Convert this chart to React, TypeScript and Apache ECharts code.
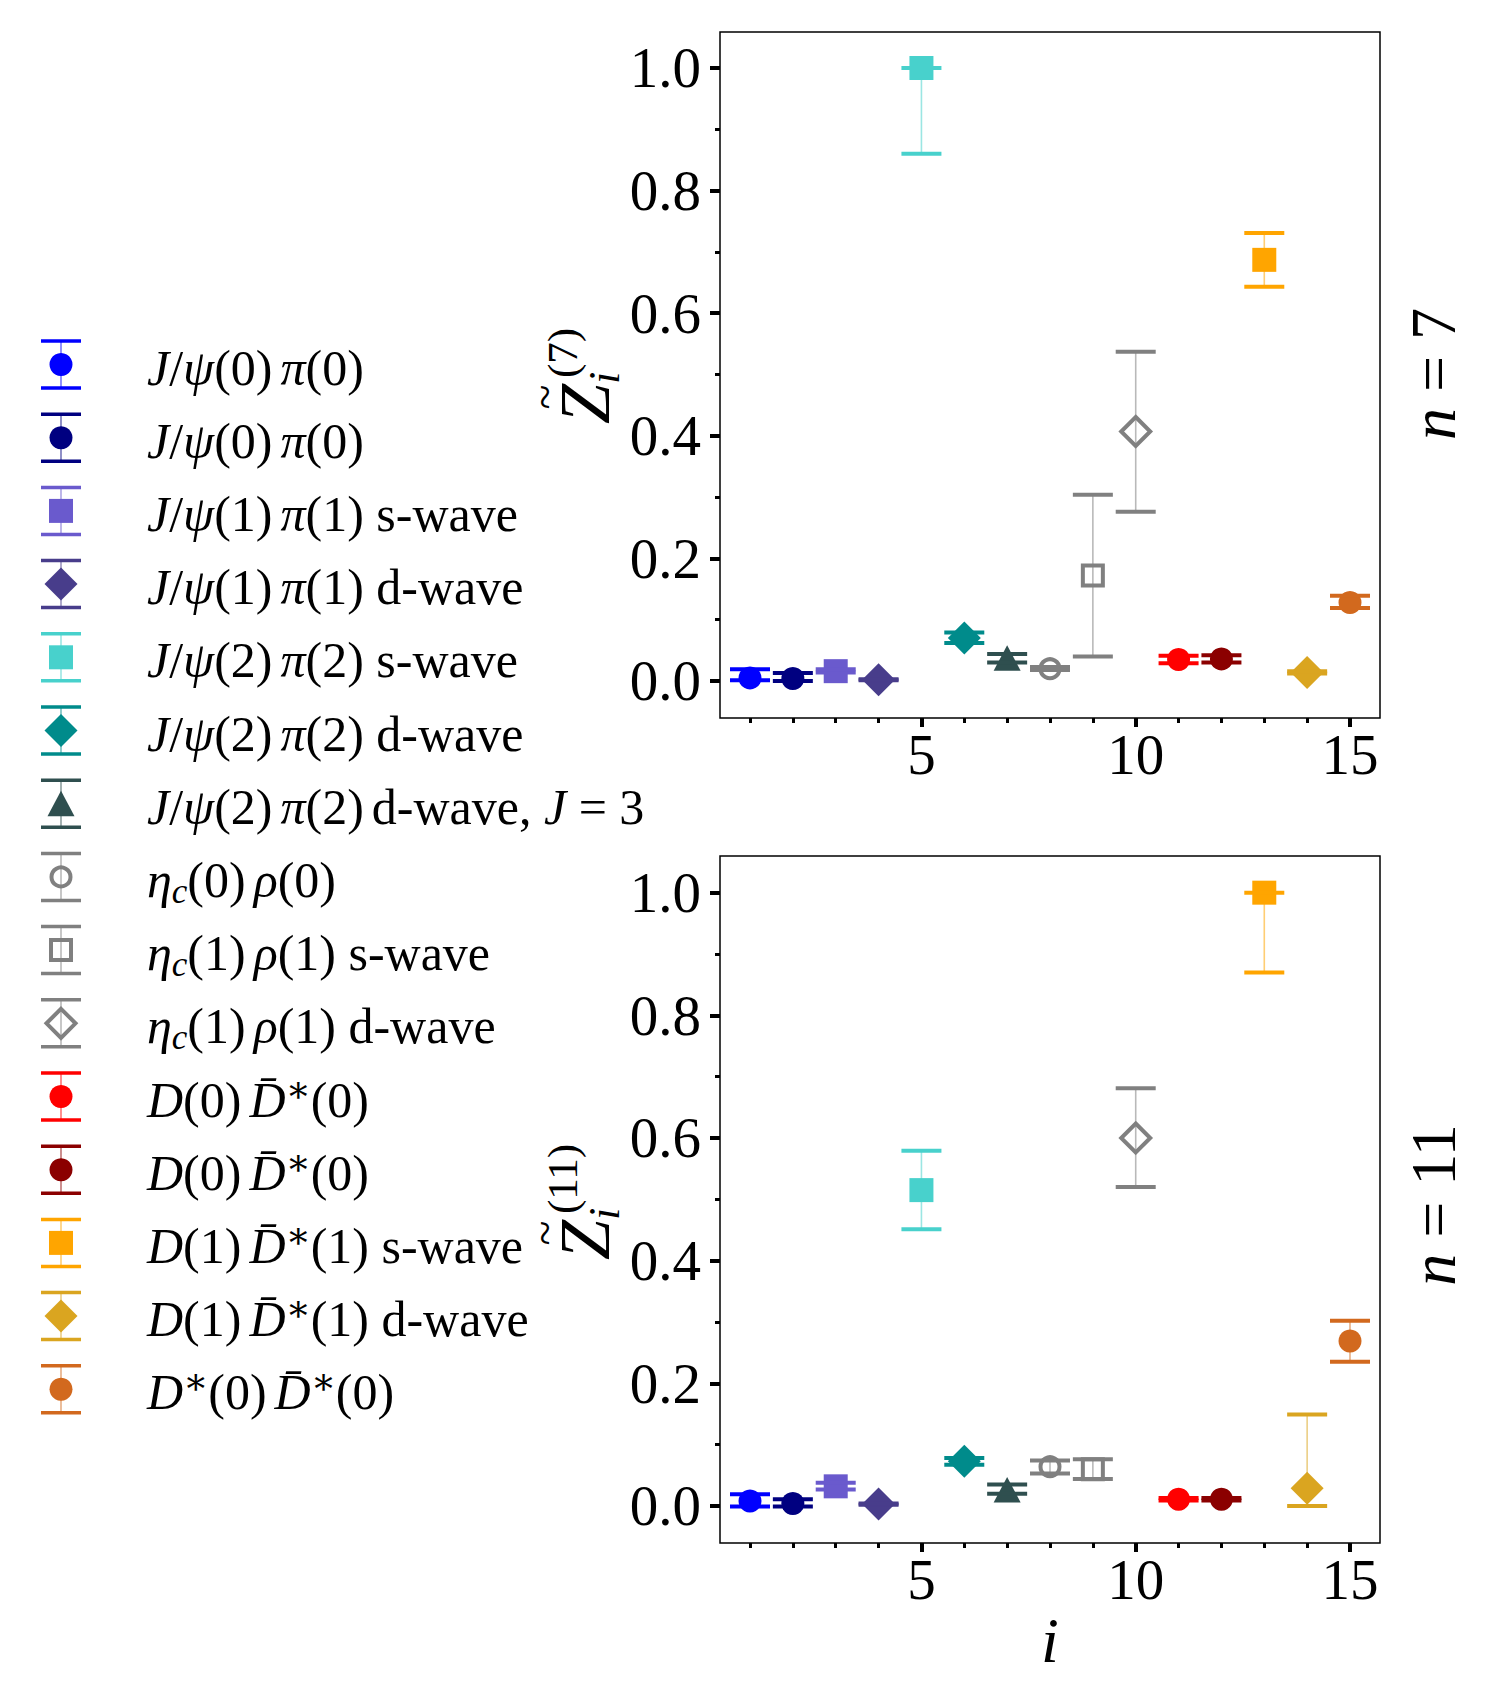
import React, { useEffect, useRef } from "react";
import * as echarts from "echarts";

const SERIF = "'Liberation Serif', 'DejaVu Serif', serif";

// ---------------- data ----------------
const INDEX = [1, 2, 3, 4, 5, 6, 7, 8, 9, 10, 11, 12, 13, 14, 15];

const LABELS = [
  "J/ψ(0)\u2009π(0)",
  "J/ψ(0)\u2009π(0)",
  "J/ψ(1)\u2009π(1) s-wave",
  "J/ψ(1)\u2009π(1) d-wave",
  "J/ψ(2)\u2009π(2) s-wave",
  "J/ψ(2)\u2009π(2) d-wave",
  "J/ψ(2)\u2009π(2)\u2009d-wave, J = 3",
  "η_c(0)\u2009ρ(0)",
  "η_c(1)\u2009ρ(1) s-wave",
  "η_c(1)\u2009ρ(1) d-wave",
  "D(0)\u2009D\u0304*(0)",
  "D(0)\u2009D\u0304*(0)",
  "D(1)\u2009D\u0304*(1) s-wave",
  "D(1)\u2009D\u0304*(1) d-wave",
  "D*(0)\u2009D\u0304*(0)",
];

const COLORS = [
  "#0000ff", "#000080", "#6a5acd", "#483d8b", "#48d1cc",
  "#008b8b", "#2f4f4f", "#808080", "#808080", "#808080",
  "#ff0000", "#8b0000", "#ffa500", "#daa520", "#d2691e",
];

const MARKERS = [
  "circle", "circle", "square", "diamond", "square",
  "diamond", "triangle", "openCircle", "openSquare", "openDiamond",
  "circle", "circle", "square", "diamond", "circle",
];

// n = 7
const Z7 = [0.005, 0.004, 0.016, 0.002, 1.0, 0.070, 0.037, 0.020, 0.172, 0.407, 0.035, 0.036, 0.687, 0.014, 0.128];
const Z7_LO = [0.001, 0.0, 0.014, 0.001, 0.860, 0.062, 0.030, 0.018, 0.040, 0.276, 0.029, 0.030, 0.643, 0.012, 0.119];
const Z7_HI = [0.019, 0.013, 0.019, 0.003, 1.0, 0.079, 0.044, 0.023, 0.304, 0.537, 0.041, 0.042, 0.731, 0.016, 0.139];

// n = 11
const Z11 = [0.008, 0.004, 0.032, 0.003, 0.515, 0.073, 0.026, 0.064, 0.060, 0.600, 0.011, 0.011, 1.0, 0.029, 0.269];
const Z11_LO = [-0.001, -0.001, 0.027, 0.002, 0.451, 0.067, 0.020, 0.053, 0.044, 0.520, 0.009, 0.009, 0.870, 0.0, 0.235];
const Z11_HI = [0.019, 0.011, 0.038, 0.004, 0.579, 0.078, 0.035, 0.074, 0.076, 0.681, 0.013, 0.013, 1.0, 0.149, 0.302];

const Y_TICKS = [0, 0.2, 0.4, 0.6, 0.8, 1.0];
const Y_MINOR = [0.1, 0.3, 0.5, 0.7, 0.9];
const X_TICKS = [5, 10, 15];
const X_MINOR = [1, 2, 3, 4, 6, 7, 8, 9, 11, 12, 13, 14];

const X_MIN = 0.3;
const X_MAX = 15.7;
const Y_MIN = -0.0604;
const Y_MAX = 1.0587;

// ---------------- helpers ----------------
function markerEl(kind: string, cx: number, cy: number, color: string): any {
  switch (kind) {
    case "circle":
      return { type: "circle", shape: { cx, cy, r: 11.5 }, style: { fill: color } };
    case "square":
      return { type: "rect", shape: { x: cx - 12, y: cy - 12, width: 24, height: 24 }, style: { fill: color } };
    case "diamond":
      return {
        type: "polygon",
        shape: { points: [[cx, cy - 16.5], [cx + 16.5, cy], [cx, cy + 16.5], [cx - 16.5, cy]] },
        style: { fill: color },
      };
    case "triangle":
      return {
        type: "polygon",
        shape: { points: [[cx, cy - 13], [cx + 13.5, cy + 12.5], [cx - 13.5, cy + 12.5]] },
        style: { fill: color },
      };
    case "openCircle":
      return { type: "circle", shape: { cx, cy, r: 9.5 }, style: { fill: "none", stroke: color, lineWidth: 4 } };
    case "openSquare":
      return {
        type: "rect",
        shape: { x: cx - 10, y: cy - 10, width: 20, height: 20 },
        style: { fill: "none", stroke: color, lineWidth: 4 },
      };
    default:
      return {
        type: "polygon",
        shape: { points: [[cx, cy - 14.5], [cx + 14.5, cy], [cx, cy + 14.5], [cx - 14.5, cy]] },
        style: { fill: "none", stroke: color, lineWidth: 4 },
      };
  }
}

const MATH_CHARS = "JψπηρD";

function toRich(label: string): string {
  const segs: [string, string][] = [];
  let i = 0;
  while (i < label.length) {
    const ch = label[i];
    if (ch === "_") {
      segs.push(["sub", label[i + 1]]);
      i += 2;
      continue;
    }
    if (ch === "*") {
      segs.push(["sup", "∗"]);
      i += 1;
      continue;
    }
    if (ch === "\u2009") {
      segs.push(["sp", " "]);
      i += 1;
      continue;
    }
    if (MATH_CHARS.includes(ch)) {
      let t = ch;
      if (label[i + 1] === "\u0304") {
        t += "\u0304";
        i += 1;
      }
      segs.push(["m", t]);
      i += 1;
      continue;
    }
    segs.push(["r", ch]);
    i += 1;
  }
  const merged: [string, string][] = [];
  for (const s of segs) {
    const last = merged[merged.length - 1];
    if (last && last[0] === s[0] && s[0] !== "sp") last[1] += s[1];
    else merged.push([s[0], s[1]]);
  }
  return merged.map(([st, t]) => `{${st}|${t}}`).join("");
}

const LF = 50;
const LEG_RICH: any = {
  m: { fontFamily: SERIF, fontStyle: "italic", fontSize: LF, lineHeight: 58, fill: "#000" },
  r: { fontFamily: SERIF, fontSize: LF, lineHeight: 58, fill: "#000" },
  sp: { fontFamily: SERIF, fontSize: 32, lineHeight: 58, fill: "#000" },
  sub: { fontFamily: SERIF, fontStyle: "italic", fontSize: 35, lineHeight: 32, verticalAlign: "bottom", fill: "#000" },
  sup: { fontFamily: SERIF, fontSize: 37, lineHeight: 37, verticalAlign: "top", fill: "#000" },
};

function errSeries(g: number, vals: number[], lo: number[], hi: number[]) {
  return {
    type: "custom",
    xAxisIndex: g * 2,
    yAxisIndex: g * 2,
    clip: false,
    encode: { x: 0, y: [1, 2, 3] },
    data: INDEX.map((x, i) => [x, vals[i], lo[i], hi[i], i]),
    renderItem: (_params: any, api: any) => {
      const k = api.value(4);
      const col = COLORS[k];
      const c = api.coord([api.value(0), api.value(1)]);
      const pl = api.coord([api.value(0), api.value(2)]);
      const ph = api.coord([api.value(0), api.value(3)]);
      return {
        type: "group",
        children: [
          {
            type: "line",
            shape: { x1: c[0], y1: pl[1], x2: c[0], y2: ph[1] },
            style: { stroke: col, lineWidth: 1.6, opacity: 0.55 },
          },
          markerEl(MARKERS[k], c[0], c[1], col),
          {
            type: "line",
            shape: { x1: c[0] - 20, y1: pl[1], x2: c[0] + 20, y2: pl[1] },
            style: { stroke: col, lineWidth: 4 },
          },
          {
            type: "line",
            shape: { x1: c[0] - 20, y1: ph[1], x2: c[0] + 20, y2: ph[1] },
            style: { stroke: col, lineWidth: 4 },
          },
        ],
      };
    },
  };
}

const TICK_FONT = { fontFamily: SERIF, fontSize: 57, color: "#000" };

function xAxes(g: number) {
  return [
    {
      type: "value", gridIndex: g, min: X_MIN, max: X_MAX, position: "bottom", offset: 0,
      axisLine: { show: false, onZero: false }, splitLine: { show: false },
      axisTick: { show: true, customValues: X_TICKS, length: 9, lineStyle: { color: "#000", width: 4 } },
      axisLabel: { show: true, customValues: X_TICKS, margin: 8, ...TICK_FONT, formatter: (v: number) => String(v) },
    },
    {
      type: "value", gridIndex: g, min: X_MIN, max: X_MAX, position: "bottom", offset: 0,
      axisLine: { show: false, onZero: false }, splitLine: { show: false },
      axisTick: { show: true, customValues: X_MINOR, length: 5, lineStyle: { color: "#000", width: 3 } },
      axisLabel: { show: false, customValues: X_MINOR },
    },
  ];
}

function yAxes(g: number, max: number) {
  return [
    {
      type: "value", gridIndex: g, min: Y_MIN, max, position: "left", offset: 0,
      axisLine: { show: false, onZero: false }, splitLine: { show: false },
      axisTick: { show: true, customValues: Y_TICKS, length: 10, lineStyle: { color: "#000", width: 4 } },
      axisLabel: {
        show: true, customValues: Y_TICKS, margin: 19, ...TICK_FONT,
        formatter: (v: number) => Number(v).toFixed(1),
      },
    },
    {
      type: "value", gridIndex: g, min: Y_MIN, max, position: "left", offset: 0,
      axisLine: { show: false, onZero: false }, splitLine: { show: false },
      axisTick: { show: true, customValues: Y_MINOR, length: 5, lineStyle: { color: "#000", width: 3 } },
      axisLabel: { show: false, customValues: Y_MINOR },
    },
  ];
}

function yLabel(cx: number, cy: number, sup: string, zLeft: number, supLeft: number): any {
  return {
    type: "group",
    x: cx,
    y: cy,
    rotation: Math.PI / 2,
    children: [
      {
        type: "text",
        x: zLeft,
        y: -21,
        style: { text: "Z", fontFamily: SERIF, fontStyle: "italic", fontSize: 72, fill: "#000", align: "left", verticalAlign: "middle" },
      },
      {
        type: "text",
        x: zLeft + 27,
        y: -62,
        style: { text: "~", fontFamily: SERIF, fontSize: 46, fill: "#000", align: "center", verticalAlign: "middle" },
      },
      {
        type: "text",
        x: supLeft,
        y: -44,
        style: { text: sup, fontFamily: SERIF, fontSize: 43, fill: "#000", align: "left", verticalAlign: "middle" },
      },
      {
        type: "text",
        x: supLeft - 6,
        y: -2,
        style: { text: "i", fontFamily: SERIF, fontStyle: "italic", fontSize: 44, fill: "#000", align: "left", verticalAlign: "middle" },
      },
    ],
  };
}

function nLabel(cx: number, cy: number, val: string): any {
  return {
    type: "text",
    x: cx,
    y: cy,
    rotation: Math.PI / 2,
    style: {
      text: `{m|n}{r| = ${val}}`,
      align: "center",
      verticalAlign: "middle",
      rich: {
        m: { fontFamily: SERIF, fontStyle: "italic", fontSize: 64, fill: "#000" },
        r: { fontFamily: SERIF, fontSize: 64, fill: "#000" },
      },
    },
  };
}

function legendElements(): any[] {
  const out: any[] = [];
  const top = 364.5;
  const step = 73.2;
  const ix = 61;
  LABELS.forEach((lab, k) => {
    const y = top + k * step;
    const col = COLORS[k];
    out.push({ type: "line", shape: { x1: ix, y1: y - 23.5, x2: ix, y2: y + 23.5 }, style: { stroke: col, lineWidth: 1.6, opacity: 0.55 } });
    out.push(markerEl(MARKERS[k], ix, y, col));
    out.push({ type: "line", shape: { x1: ix - 20, y1: y - 23.5, x2: ix + 20, y2: y - 23.5 }, style: { stroke: col, lineWidth: 3.5 } });
    out.push({ type: "line", shape: { x1: ix - 20, y1: y + 23.5, x2: ix + 20, y2: y + 23.5 }, style: { stroke: col, lineWidth: 3.5 } });
    out.push({
      type: "text",
      x: 147,
      y: y + 3,
      style: { text: toRich(lab), rich: LEG_RICH, align: "left", verticalAlign: "middle", fill: "#000" },
    });
  });
  return out;
}

export default function App() {
  const ref = useRef<HTMLDivElement>(null);

  useEffect(() => {
    if (!ref.current) return;
    const chart = echarts.init(ref.current, undefined, { renderer: "svg" });
    const gridCommon = { show: true, borderColor: "#000", borderWidth: 1.5, backgroundColor: "transparent", containLabel: false };
    const option: any = {
      animation: false,
      backgroundColor: "#ffffff",
      grid: [
        { ...gridCommon, left: 720, top: 32, width: 660, height: 686 },
        { ...gridCommon, left: 720, top: 856, width: 660, height: 687 },
      ],
      xAxis: [...xAxes(0), ...xAxes(1)],
      yAxis: [...yAxes(0, Y_MAX), ...yAxes(1, 1.0598)],
      series: [errSeries(0, Z7, Z7_LO, Z7_HI), errSeries(1, Z11, Z11_LO, Z11_HI)],
      graphic: [
        ...legendElements(),
        yLabel(606, 380, "(7)", -44, 2),
        yLabel(606, 1208, "(11)", -52, -6),
        nLabel(1433, 374, "7"),
        nLabel(1433, 1205, "11"),
        {
          type: "text",
          x: 1050,
          y: 1640,
          style: { text: "i", fontFamily: SERIF, fontStyle: "italic", fontSize: 64, fill: "#000", align: "center", verticalAlign: "middle" },
        },
      ],
    };
    chart.setOption(option);
    return () => chart.dispose();
  }, []);

  return (
    <div
      ref={ref}
      style={{ position: "absolute", left: 0, top: 0, width: 1500, height: 1695, background: "#fff" }}
    />
  );
}
